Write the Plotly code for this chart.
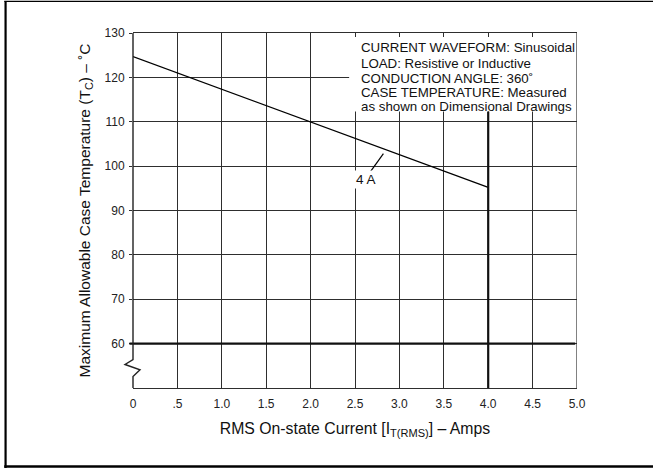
import plotly.graph_objects as go

# ---- data ----
current_amps = [0.0, 2.0, 4.0]
case_temp_c = [124.7, 110.0, 95.2]

x_tick_vals = [0, 0.5, 1.0, 1.5, 2.0, 2.5, 3.0, 3.5, 4.0, 4.5, 5.0]
x_tick_text = ["0", ".5", "1.0", "1.5", "2.0", "2.5", "3.0", "3.5", "4.0", "4.5", "5.0"]
y_tick_vals = [60, 70, 80, 90, 100, 110, 120, 130]

note_lines = [
    "CURRENT WAVEFORM: Sinusoidal",
    "LOAD: Resistive or Inductive",
    "CONDUCTION ANGLE: 360˚",
    "CASE TEMPERATURE: Measured",
    "as shown on Dimensional Drawings",
]
note_y = [126.8, 123.2, 119.85, 116.7, 113.45]
curve_label = "4 A"

Y_MIN, Y_MAX = 50, 130
FONT = "Liberation Sans, Arial, Helvetica, sans-serif"
GRID = "#2e2e2e"


def py(v):
    """data y -> paper y"""
    return (v - Y_MIN) / (Y_MAX - Y_MIN)


fig = go.Figure()
fig.add_trace(go.Scatter(x=current_amps, y=case_temp_c, mode="lines",
                         line=dict(color="black", width=1.3),
                         hoverinfo="skip", showlegend=False))

shapes = []
# white box behind the notes
shapes.append(dict(type="rect", xref="x", yref="y", x0=2.434, x1=5.0, y0=112.3, y1=129.1,
                   fillcolor="white", line=dict(width=0), layer="above"))
# right edge
shapes.append(dict(type="line", xref="x", yref="y", x0=5, x1=5, y0=50, y1=130,
                   line=dict(color=GRID, width=1.2), layer="above"))
# heavy 60 line and heavy 4.0 line
shapes.append(dict(type="line", xref="paper", yref="paper", x0=-0.008, x1=0.996,
                   y0=py(60), y1=py(60), line=dict(color="#111", width=2.2), layer="above"))
shapes.append(dict(type="line", xref="x", yref="y", x0=4.0, x1=4.0, y0=50, y1=112.3,
                   line=dict(color="#111", width=2.2), layer="above"))
# patch out the x=0 gridline across the axis break
shapes.append(dict(type="rect", xref="paper", yref="paper", xsizemode="pixel", xanchor=0,
                   x0=-2, x1=2, y0=py(52.7), y1=py(56.3), fillcolor="white",
                   line=dict(width=0), layer="above"))
# left axis with break symbol
brk = [(0, 130), (0, 56.4), (-8, 55.3), (7, 54.1), (0, 52.6), (0, 50)]
path = "M" + " L".join(f"{dx},{py(v):.5f}" for dx, v in brk)
shapes.append(dict(type="path", xref="paper", yref="paper", xsizemode="pixel", xanchor=0,
                   path=path, line=dict(color="#222", width=1.4), layer="above"))
# leader for the curve label
shapes.append(dict(type="line", xref="x", yref="y", x0=2.67, y0=98.65, x1=2.82, y1=102.8,
                   line=dict(color="black", width=1.2), layer="above"))
# outer frame (top, left, bottom)
shapes.append(dict(type="line", xref="paper", yref="paper", x0=-0.29, x1=1.2, y0=1.089, y1=1.089,
                   line=dict(color="black", width=1.3)))
shapes.append(dict(type="line", xref="paper", yref="paper", x0=-0.287, x1=-0.287, y0=-0.225, y1=1.089,
                   line=dict(color="black", width=2.2)))
shapes.append(dict(type="line", xref="paper", yref="paper", x0=-0.29, x1=1.2, y0=-0.221, y1=-0.221,
                   line=dict(color="black", width=2.6)))

annotations = []
for txt, yy in zip(note_lines, note_y):
    annotations.append(dict(x=2.55, y=yy, xref="x", yref="y", text=txt, showarrow=False,
                            xanchor="left", yanchor="middle",
                            font=dict(family=FONT, size=13.3, color="#111")))
annotations.append(dict(x=2.625, y=96.9, xref="x", yref="y", text=curve_label, showarrow=False,
                        xanchor="center", yanchor="middle", bgcolor="white", borderpad=1,
                        font=dict(family=FONT, size=13.5, color="#111")))

fig.update_layout(
    width=653, height=468,
    margin=dict(l=133, r=76, t=33, b=80),
    paper_bgcolor="white", plot_bgcolor="white",
    font=dict(family=FONT, size=12, color="#222"),
    shapes=shapes, annotations=annotations, showlegend=False,
    xaxis=dict(range=[0, 5], tickvals=x_tick_vals, ticktext=x_tick_text,
               showgrid=True, gridcolor=GRID, gridwidth=1.2, zeroline=False,
               showline=True, mirror=True, linecolor=GRID, linewidth=1.2,
               ticks="", ticklabelstandoff=4,
               tickfont=dict(family=FONT, size=12, color="#222"),
               title=dict(text="RMS On-state Current [I<sub>T(RMS)</sub>] – Amps",
                          font=dict(family=FONT, size=15.8, color="#111"), standoff=13)),
    yaxis=dict(range=[Y_MIN, Y_MAX], tickvals=y_tick_vals,
               showgrid=True, gridcolor=GRID, gridwidth=1.2, zeroline=False,
               showline=False, ticks="outside", ticklen=3, tickcolor=GRID,
               ticklabelstandoff=2,
               tickfont=dict(family=FONT, size=12, color="#222"),
               title=dict(text="Maximum Allowable Case Temperature (T<sub>C</sub>) – ˚C",
                          font=dict(family=FONT, size=15.5, color="#111"), standoff=10)),
)

fig.write_html("out.html", config={"displayModeBar": False},
               post_script="document.body.style.margin='0';document.body.style.overflow='hidden';")
